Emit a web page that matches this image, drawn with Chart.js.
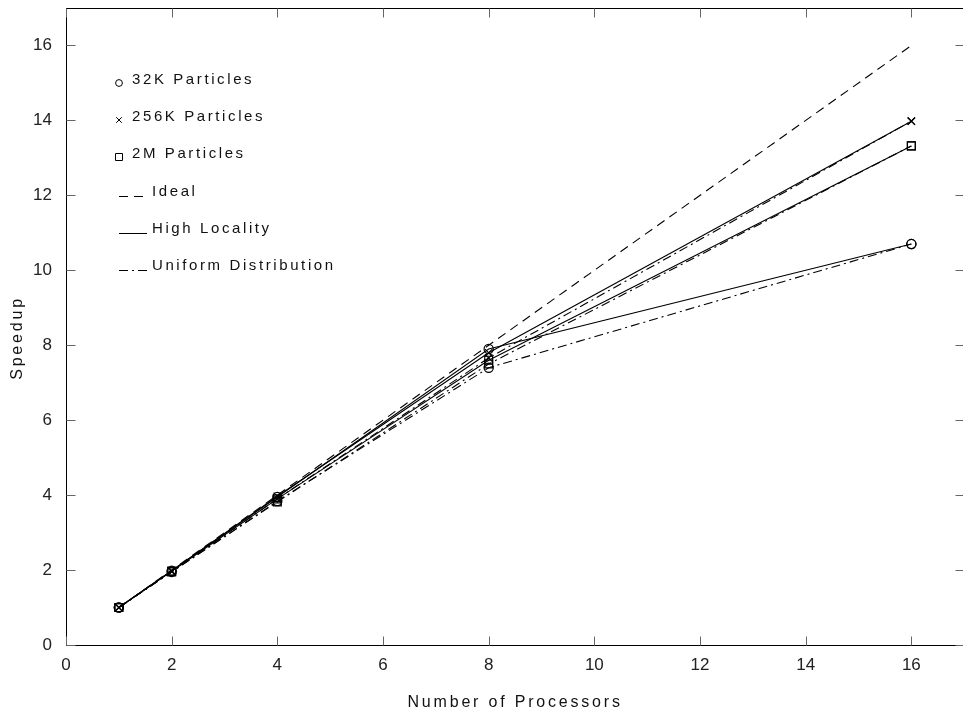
<!DOCTYPE html>
<html>
<head>
<meta charset="utf-8">
<title>Speedup</title>
<script src="https://cdn.jsdelivr.net/npm/chart.js@4/dist/chart.umd.min.js"></script>
<style>
  html, body { margin: 0; padding: 0; background: #fff; overflow: hidden; }
  #wrap { width: 963px; height: 712px; overflow: hidden; }
  canvas { display: block; }
</style>
</head>
<body>
<div id="wrap"><canvas id="chart" width="971" height="712"></canvas></div>
<script>
var processors = [1, 2, 4, 8, 16];
var ideal = [1, 2, 4, 8, 16];
var p32kHigh = [1, 1.98, 3.95, 7.9, 10.7];
var p32kUniform = [1, 1.95, 3.84, 7.4, 10.7];
var p256kHigh = [1, 1.98, 3.97, 7.8, 13.98];
var p256kUniform = [1, 1.96, 3.9, 7.66, 13.98];
var p2mHigh = [1, 1.97, 3.9, 7.6, 13.32];
var p2mUniform = [1, 1.95, 3.82, 7.5, 13.32];
var xTicks = [0, 2, 4, 6, 8, 10, 12, 14, 16];
var yTicks = [0, 2, 4, 6, 8, 10, 12, 14, 16];
var legendLabels = ['32K Particles', '256K Particles', '2M Particles', 'Ideal', 'High Locality', 'Uniform Distribution'];
var xTitle = 'Number of Processors';
var yTitle = 'Speedup';

var SOLID = [];
var DASHED = [9, 6];
var DASHDOT = [9, 4, 2, 4];

function points(values) {
  return values.map(function(v, i) { return { x: processors[i], y: v }; });
}

function series(values, dash, style, radius) {
  return {
    data: points(values),
    borderColor: '#000',
    borderWidth: 1.1,
    borderDash: dash,
    pointStyle: style,
    pointRadius: radius,
    pointBorderColor: '#000',
    pointBackgroundColor: 'rgba(0,0,0,0)',
    pointBorderWidth: 1.2,
    tension: 0,
    fill: false
  };
}

// draws a small marker in the legend
function marker(ctx, style, x, y) {
  ctx.beginPath();
  if (style === 'circle') {
    ctx.arc(x, y, 3.4, 0, Math.PI * 2);
  } else if (style === 'crossRot') {
    ctx.moveTo(x - 2.8, y - 2.8); ctx.lineTo(x + 2.8, y + 2.8);
    ctx.moveTo(x - 2.8, y + 2.8); ctx.lineTo(x + 2.8, y - 2.8);
  } else {
    ctx.rect(x - 3.5, y - 3.5, 7, 7);
  }
  ctx.stroke();
}

var frame = {
  id: 'frame',
  beforeDatasetsDraw: function(chart) {
    var ctx = chart.ctx, a = chart.chartArea;
    var xs = chart.scales.x, ys = chart.scales.y;
    var l = Math.round(a.left) + 0.5, r = Math.round(a.right) + 0.5;
    var t = Math.round(a.top) + 0.5, b = Math.round(a.bottom) + 0.5;
    ctx.save();
    ctx.strokeStyle = '#000';
    ctx.lineWidth = 1;
    ctx.strokeRect(l, t, r - l, b - t);
    ctx.strokeStyle = '#666';
    ctx.beginPath();
    xs.ticks.forEach(function(tk) {
      var px = Math.round(xs.getPixelForValue(tk.value)) + 0.5;
      ctx.moveTo(px, b); ctx.lineTo(px, b - 9);
      ctx.moveTo(px, t); ctx.lineTo(px, t + 9);
    });
    ys.ticks.forEach(function(tk) {
      var py = Math.round(ys.getPixelForValue(tk.value)) + 0.5;
      ctx.moveTo(l, py); ctx.lineTo(l + 9, py);
      ctx.moveTo(r, py); ctx.lineTo(r - 9, py);
    });
    ctx.stroke();
    ctx.restore();
  },
  afterDraw: function(chart) {
    var ctx = chart.ctx, a = chart.chartArea;
    ctx.save();
    ctx.fillStyle = '#111';
    ctx.strokeStyle = '#000';
    ctx.lineWidth = 1;

    // axis titles
    ctx.font = '16px "Liberation Sans", Arial, sans-serif';
    ctx.letterSpacing = '2.8px';
    ctx.textAlign = 'center';
    ctx.textBaseline = 'middle';
    ctx.fillText(xTitle, (a.left + a.right) / 2, 703);
    ctx.save();
    ctx.translate(18, 338);
    ctx.rotate(-Math.PI / 2);
    ctx.fillText(yTitle, 0, 0);
    ctx.restore();

    // legend
    var mx = Math.round(chart.scales.x.getPixelForValue(1));
    var styles = ['circle', 'crossRot', 'rect'];
    var dashes = [DASHED, SOLID, DASHDOT];
    ctx.font = '15px "Liberation Sans", Arial, sans-serif';
    ctx.letterSpacing = '2.6px';
    ctx.textAlign = 'left';
    ctx.textBaseline = 'alphabetic';
    legendLabels.forEach(function(label, i) {
      var base = Math.round(a.top + 76 + i * 37.2);
      if (i < 3) {
        ctx.setLineDash([]);
        marker(ctx, styles[i], mx, base - 1);
        ctx.fillText(label, mx + 13, base);
      } else {
        ctx.setLineDash(dashes[i - 3]);
        ctx.beginPath();
        ctx.moveTo(mx, base + 0.5);
        ctx.lineTo(mx + 28, base + 0.5);
        ctx.stroke();
        ctx.fillText(label, mx + 33, base);
      }
    });
    ctx.restore();
  }
};

var tickFont = { family: '"Liberation Sans", Arial, sans-serif', size: 17 };

new Chart(document.getElementById('chart').getContext('2d'), {
  type: 'line',
  data: {
    datasets: [
      series(ideal, DASHED, false, 0),
      series(p32kHigh, SOLID, 'circle', 4.6),
      series(p32kUniform, DASHDOT, 'circle', 4.6),
      series(p256kHigh, SOLID, 'crossRot', 5.2),
      series(p256kUniform, DASHDOT, 'crossRot', 5.2),
      series(p2mHigh, SOLID, 'rect', 5.6),
      series(p2mUniform, DASHDOT, 'rect', 5.6)
    ]
  },
  options: {
    responsive: false,
    animation: false,
    devicePixelRatio: 1,
    layout: { padding: { top: 8, right: 1, left: 0, bottom: 0 } },
    plugins: { legend: { display: false }, tooltip: { enabled: false } },
    scales: {
      x: {
        type: 'linear',
        min: 0,
        max: 17,
        afterBuildTicks: function(scale) { scale.ticks = xTicks.map(function(v) { return { value: v }; }); },
        afterFit: function(scale) {
          scale.height = 67;
          scale.paddingLeft = 0;
          scale.paddingRight = 0;
        },
        grid: { display: false, drawTicks: false },
        border: { display: false },
        ticks: { color: '#222', font: tickFont, padding: 10, maxRotation: 0 }
      },
      y: {
        type: 'linear',
        min: 0,
        max: 17,
        afterBuildTicks: function(scale) { scale.ticks = yTicks.map(function(v) { return { value: v }; }); },
        afterFit: function(scale) {
          scale.width = 66;
          scale.paddingTop = 0;
          scale.paddingBottom = 0;
        },
        grid: { display: false, drawTicks: false },
        border: { display: false },
        ticks: { color: '#222', font: tickFont, padding: 14 }
      }
    }
  },
  plugins: [frame]
});
</script>
</body>
</html>
